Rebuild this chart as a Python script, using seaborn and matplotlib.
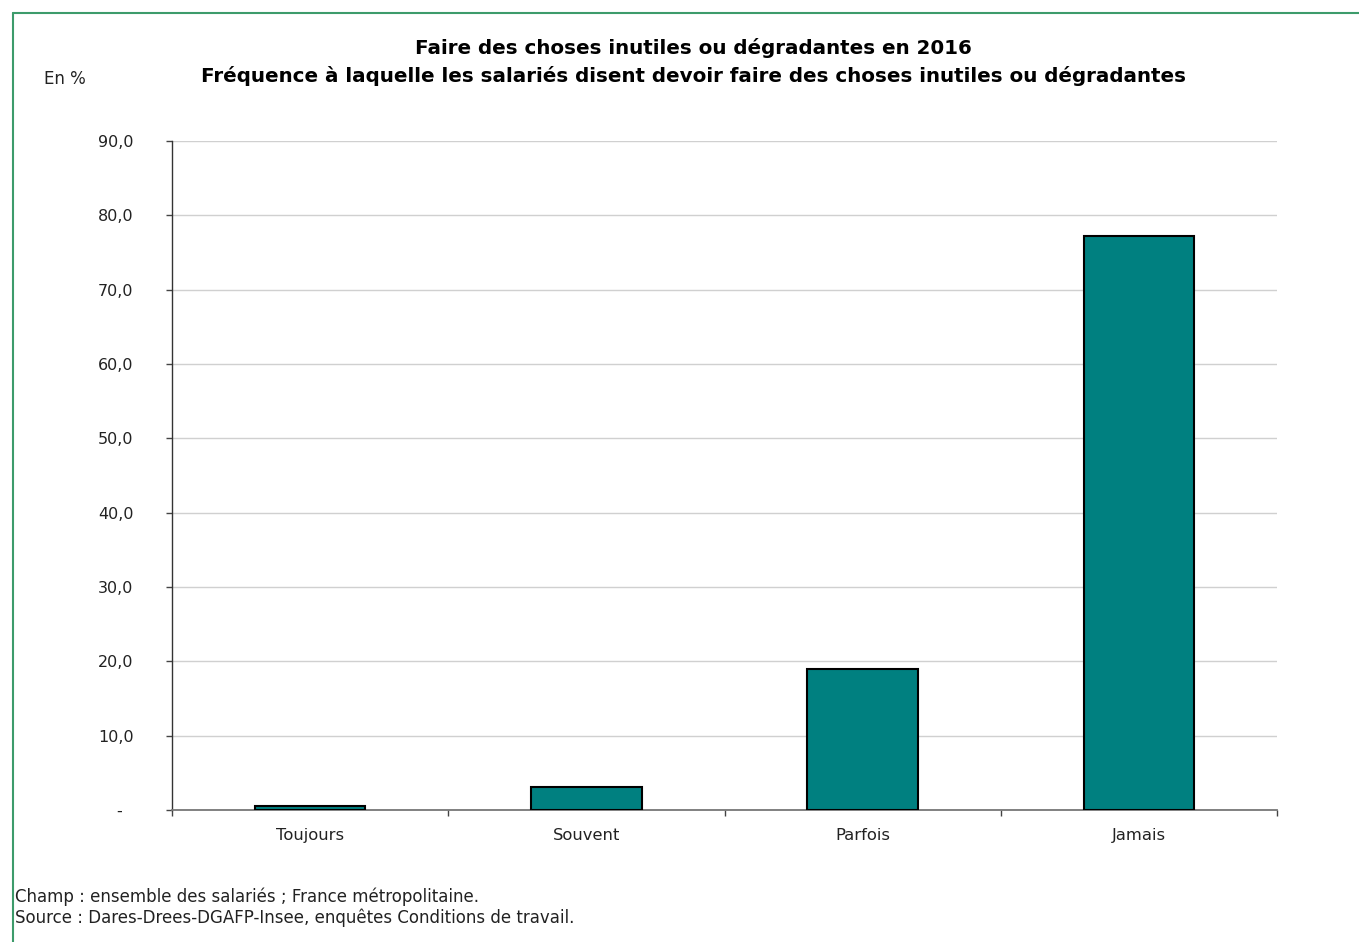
import matplotlib
matplotlib.use("Agg")
import matplotlib.pyplot as plt
import seaborn as sns
import pandas as pd
from matplotlib.lines import Line2D
from matplotlib.ticker import FixedLocator

categories = ["Toujours", "Souvent", "Parfois", "Jamais"]
values = [0.6, 3.1, 19.0, 77.2]
y_ticks = [0, 10, 20, 30, 40, 50, 60, 70, 80, 90]
y_tick_labels = ["-  ", "10,0", "20,0", "30,0", "40,0", "50,0", "60,0", "70,0", "80,0", "90,0"]
title_lines = ["Faire des choses inutiles ou dégradantes en 2016",
               "Fréquence à laquelle les salariés disent devoir faire des choses inutiles ou dégradantes"]
unit_label = "En %"
notes = ["Champ : ensemble des salariés ; France métropolitaine.",
         "Source : Dares-Drees-DGAFP-Insee, enquêtes Conditions de travail."]

sns.set_style("white")
plt.rcParams['font.family'] = ['DejaVu Sans']

W, H = 1359, 942
fig = plt.figure(figsize=(W / 100, H / 100), dpi=100)
ax = fig.add_axes([172 / W, 1 - 810 / H, (1277 - 172) / W, (810 - 141) / H])

df = pd.DataFrame({"cat": categories, "val": values})
sns.barplot(data=df, x="cat", y="val", ax=ax, color="#008080", saturation=1,
            width=0.40, edgecolor="black", linewidth=1.5, zorder=3)

ax.set_xlim(-0.5, len(categories) - 0.5)
ax.set_ylim(0, 90)
ax.set_yticks(y_ticks)
ax.set_yticklabels(y_tick_labels, fontsize=11.5, color="#222222")
ax.set_xlabel("")
ax.set_ylabel("")
ax.set_xticks(range(len(categories)))
ax.set_xticklabels(categories, fontsize=11.8, color="#222222")
ax.xaxis.set_minor_locator(FixedLocator([i - 0.5 for i in range(len(categories) + 1)]))
ax.tick_params(axis="x", which="major", length=0, pad=13, bottom=True)
ax.tick_params(axis="x", which="minor", length=4.3, width=1, color="#444444",
               direction="out", bottom=True)
ax.tick_params(axis="y", which="major", length=4.3, width=1, color="#444444",
               direction="out", pad=23.5, left=True)
for lab in ax.get_yticklabels():
    lab.set_horizontalalignment("right")

ax.yaxis.grid(True, color="#d0d0d0", linewidth=1, zorder=0)
ax.set_axisbelow(True)
for s in ["top", "right"]:
    ax.spines[s].set_visible(False)
ax.spines["left"].set_color("#333333")
ax.spines["bottom"].set_color("#777777")
ax.spines["left"].set_linewidth(1)
ax.spines["bottom"].set_linewidth(1.3)

fig.text(693 / W, 1 - 48 / H, title_lines[0], ha="center", va="center",
         fontsize=14.3, fontweight="bold", color="black")
fig.text(693 / W, 1 - 76 / H, title_lines[1], ha="center", va="center",
         fontsize=14.3, fontweight="bold", color="black")
fig.text(65 / W, 1 - 79 / H, unit_label, ha="center", va="center", fontsize=12, color="#222222")
fig.text(15 / W, 1 - 897 / H, notes[0], ha="left", va="center", fontsize=12, color="#222222")
fig.text(15 / W, 1 - 918 / H, notes[1], ha="left", va="center", fontsize=12, color="#222222")

border = "#3d9b6b"
fig.add_artist(Line2D([13 / W, 1.0], [1 - 13 / H, 1 - 13 / H], transform=fig.transFigure,
                      color=border, linewidth=1.5))
fig.add_artist(Line2D([13 / W, 13 / W], [1 - 13 / H, 0], transform=fig.transFigure,
                      color=border, linewidth=1.5))

fig.savefig("out.png", dpi=100)
